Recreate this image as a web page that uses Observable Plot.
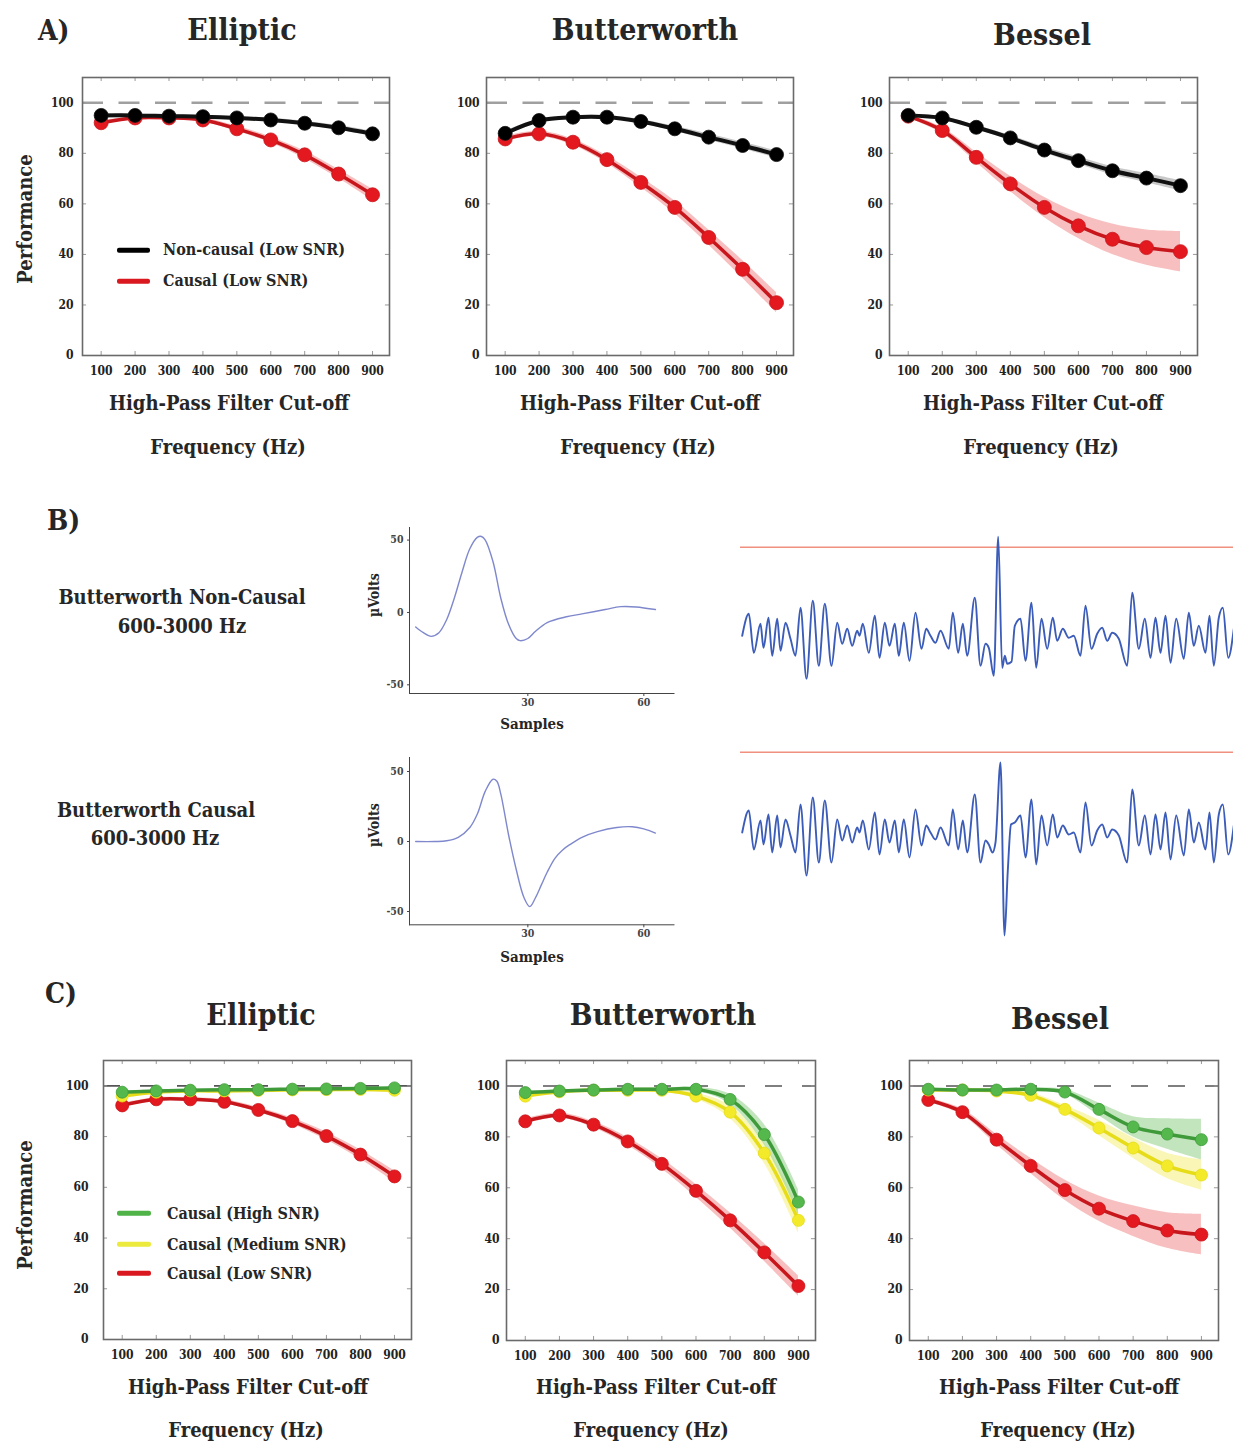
<!DOCTYPE html>
<html><head><meta charset="utf-8">
<script src="https://cdn.jsdelivr.net/npm/d3@7"></script>
<script src="https://cdn.jsdelivr.net/npm/@observablehq/plot@0.6"></script>
<style>
body{margin:0;background:#fff;}
#root{position:relative;width:1233px;height:1445px;overflow:hidden;background:#fff;font-family:"DejaVu Serif Condensed","DejaVu Serif",serif;font-weight:bold;color:#262626;}
.t{position:absolute;white-space:nowrap;transform:translate(-50%,-50%);line-height:1;}
.l{position:absolute;white-space:nowrap;transform:translate(0,-50%);line-height:1;}
.r{position:absolute;white-space:nowrap;transform:translate(-50%,-50%) rotate(-90deg);line-height:1;}
.sw{position:absolute;height:4.5px;transform:translate(0,-50%);border-radius:2px;}
#root svg{position:absolute;}
</style></head><body><div id="root"></div>
<script>
// ---------- data ----------
const freqs = [100, 200, 300, 400, 500, 600, 700, 800, 900];
const perfTicks = [0, 20, 40, 60, 80, 100];

// Panel A (Low SNR)
const ellipticNonCausalLow = [95.0, 95.0, 94.7, 94.5, 94.0, 93.2, 91.9, 90.1, 87.7];
const ellipticNonCausalLowErr = [0.6, 0.5, 0.5, 0.5, 0.6, 0.7, 0.8, 0.9, 1.0];
const ellipticCausalLow = [92.1, 94.0, 94.0, 93.2, 89.7, 85.3, 79.4, 71.8, 63.6];
const ellipticCausalLowErr = [0.8, 0.6, 0.6, 0.8, 1.0, 1.2, 1.5, 1.8, 2.2];
const butterNonCausalLow = [87.9, 93.0, 94.3, 94.3, 92.6, 89.7, 86.4, 83.1, 79.5];
const butterNonCausalLowErr = [0.8, 0.6, 0.6, 0.7, 0.8, 1.0, 1.2, 1.3, 1.5];
const butterCausalLow = [85.7, 87.7, 84.4, 77.5, 68.5, 58.6, 46.7, 34.1, 20.9];
const butterCausalLowErr = [1.0, 1.0, 1.2, 1.5, 2.0, 2.5, 3.0, 3.5, 4.0];
const besselNonCausalLow = [95.0, 94.0, 90.3, 86.1, 81.3, 77.1, 73.1, 70.2, 67.2];
const besselNonCausalLowErr = [0.5, 0.6, 0.8, 1.0, 1.2, 1.4, 1.6, 1.8, 2.0];
const besselCausalLow = [94.7, 89.0, 78.4, 67.9, 58.6, 51.3, 46.0, 42.7, 41.1];
const besselCausalLowErr = [0.8, 1.2, 2.0, 3.0, 4.0, 5.0, 6.0, 7.0, 8.0];

// Panel C (causal, three SNR levels)
const ellipticCausalHigh = [97.5, 98.0, 98.3, 98.5, 98.5, 98.7, 98.8, 99.0, 99.2];
const ellipticCausalHighErr = [0.5, 0.4, 0.4, 0.4, 0.4, 0.4, 0.4, 0.4, 0.4];
const ellipticCausalMedium = [96.0, 97.5, 98.0, 98.0, 98.2, 98.4, 98.5, 98.6, 98.3];
const ellipticCausalMediumErr = [0.6, 0.5, 0.5, 0.5, 0.5, 0.5, 0.5, 0.5, 0.6];
const ellipticCausalLowC = [92.3, 94.7, 94.7, 93.7, 90.5, 86.1, 80.2, 72.9, 64.3];
const ellipticCausalLowCErr = [0.8, 0.6, 0.6, 0.8, 1.0, 1.2, 1.5, 1.8, 2.2];
const butterCausalHigh = [97.4, 98.0, 98.4, 98.7, 98.7, 98.7, 94.7, 80.9, 54.4];
const butterCausalHighErr = [0.5, 0.5, 0.5, 0.5, 0.5, 0.8, 2.0, 4.0, 5.0];
const butterCausalMedium = [96.0, 97.7, 98.3, 98.3, 98.3, 96.0, 89.7, 73.6, 47.2];
const butterCausalMediumErr = [0.6, 0.6, 0.6, 0.6, 0.8, 1.2, 2.5, 4.0, 5.0];
const butterCausalLowC = [86.1, 88.4, 84.8, 78.2, 69.4, 58.8, 47.2, 34.6, 21.4];
const butterCausalLowCErr = [1.0, 1.0, 1.2, 1.5, 2.0, 2.5, 3.0, 3.5, 4.0];
const besselCausalHigh = [98.7, 98.4, 98.4, 98.7, 97.6, 90.8, 83.9, 81.1, 78.9];
const besselCausalHighErr = [0.4, 0.4, 0.4, 0.5, 1.0, 2.5, 4.0, 6.0, 8.0];
const besselCausalMedium = [98.4, 98.4, 98.0, 96.3, 90.8, 83.5, 75.6, 68.6, 65.0];
const besselCausalMediumErr = [0.4, 0.4, 0.5, 1.0, 1.5, 3.0, 4.0, 5.0, 6.0];
const besselCausalLowC = [94.5, 89.7, 78.9, 68.6, 59.1, 51.8, 46.9, 43.2, 41.6];
const besselCausalLowCErr = [0.8, 1.2, 2.0, 3.0, 4.0, 5.0, 6.0, 7.0, 8.0];

// Panel B: mean spike waveforms (sample, µV)
const waveSamples = [30, 60];
const waveVoltTicks = [-50, 0, 50];
const waveNonCausalS = [1, 3, 5, 7, 9, 11, 13, 15, 17, 18, 19, 21, 23, 25, 27, 28, 30, 32, 35, 40, 44, 50, 54, 58, 63];
const waveNonCausalV = [-10, -14, -16.5, -14, -5, 10, 28, 44, 52, 52.5, 50, 35, 10, -8, -18, -19.5, -18, -13, -7, -3, -1, 2, 4, 3.8, 2];
const waveCausalS = [1, 6, 9, 12, 15, 17, 19, 21, 22, 23, 25, 27, 29, 30.5, 32, 33.5, 35, 37, 39, 41, 44, 48, 53, 57, 60, 63];
const waveCausalV = [0, 0, 0.5, 3, 10, 20, 36, 44.5, 43, 34, 5, -20, -40, -46.5, -40, -31, -22, -12, -6, -2, 3, 7, 10, 10.5, 9, 6];

// Panel B: filtered traces — shared background noise (time, amplitude) and two spike shapes
const noiseBeforeT = [1.7, 8.3, 13.3, 20, 23, 28, 31.7, 36.7, 40, 45, 50, 55, 60, 66, 72.3, 78.3, 84.3, 91, 96.7, 101.7,
  106.7, 111.7, 116.7, 119, 122.3, 128.3, 134.3, 139, 144.3, 149, 154.3, 158.3, 163.3, 169, 175, 181, 185.7, 190, 195, 200,
  208.3, 212.3, 217.7, 222.3, 226.7, 234.3, 240, 245];
const noiseBeforeV = [-2, 20, -19, 10, -14, 16, -22, 15, -17, 11, -5, -22, 26, -45, 33, -32, 30, -32, 11, -10,
  5, -12, 3, -2, 10, -19, 18, -24, 11, -12, 10, -22, 11, -27, 21, -15, 5, -2, -9, 3,
  -15, 21, -19, 10, -22, 36, -32, -10];
const spikeNonCausalT = [248.3, 253.3, 257.7, 261.7, 264.3, 266.7, 271];
const spikeNonCausalV = [-14, -42, 97, -34, -22, -30, -28];
const spikeCausalT = [248.3, 252, 255, 260, 264, 267.3, 270.5];
const spikeCausalV = [-14, -22, -12, 68, -105, -40, 6];
const noiseAfterT = [274.3, 280, 285, 291, 295.7, 301, 306.7, 312.3, 316.7, 322.3, 328.3, 333.3, 340, 345, 351, 356.7,
  361.7, 366.7, 371.7, 378.3, 386.7, 391.7, 398.3, 404.3, 410, 415, 420, 425, 430, 435.7, 443.3, 448.3, 453.3, 458.3,
  465, 469, 473.3, 478.3, 482.3, 487.7, 493.3];
const noiseAfterV = [8, 15, -27, 31, -34, 15, -15, 16, -7, 5, -4, -2, -22, 28, -15, 0,
  6, -7, 1, -5, -32, 41, -15, 15, -24, 16, -19, 18, -29, 15, -25, 21, -12, 8,
  -19, 18, -32, 16, 26, -24, 5];
const thresholdNonCausal = 86.6;
const thresholdCausal = 78.3;

// ---------- helpers ----------
const root = document.getElementById("root");
const FONT = '"DejaVu Serif Condensed","DejaVu Serif",serif';
const COL = {
  black: {line: "#111", dot: "#000", band: "#9a9a9a"},
  red: {line: "#c8161d", dot: "#e3191f", band: "#f08a8a"},
  green: {line: "#3f9a3a", dot: "#55b84d", band: "#8fd086"},
  yellow: {line: "#e6dc18", dot: "#f3ea2a", band: "#f4ef7a"}
};
function txt(s, x, y, size, cls = "t") {
  const d = document.createElement("div");
  d.className = cls; d.textContent = s;
  d.style.left = x + "px"; d.style.top = y + "px"; d.style.fontSize = size + "px";
  root.appendChild(d);
}
function swatch(x1, x2, y, color) {
  const d = document.createElement("div");
  d.className = "sw"; d.style.left = x1 + "px"; d.style.width = (x2 - x1) + "px";
  d.style.top = y + "px"; d.style.background = color;
  root.appendChild(d);
}
function place(svg, left, top) {
  svg.style.left = left + "px"; svg.style.top = top + "px";
  root.appendChild(svg);
}

const xDom = [45, 950], yDom = [0, 110];
function perfChart({frame, series, dash, yPad, r = 7}) {
  const [L, T, R, B] = frame;
  const mL = 45, mT = 6, mR = 6, mB = 30;
  const marks = [
    Plot.ruleY([100], {stroke: dash.stroke, strokeDasharray: dash.array, strokeWidth: dash.width})
  ];
  for (const s of series) {
    const d = freqs.map((f, i) => ({f, v: s.values[i], lo: s.values[i] - s.err[i], hi: s.values[i] + s.err[i]}));
    const c = COL[s.color];
    marks.push(Plot.areaY(d, {x: "f", y1: "lo", y2: "hi", fill: c.band, fillOpacity: 0.55, curve: "catmull-rom"}));
  }
  for (const s of series) {
    const d = freqs.map((f, i) => ({f, v: s.values[i]}));
    const c = COL[s.color];
    marks.push(Plot.line(d, {x: "f", y: "v", stroke: c.line, strokeWidth: s.lw || 3.5, curve: "catmull-rom"}));
    marks.push(Plot.dot(d, {x: "f", y: "v", r: s.r || r, fill: c.dot, stroke: c.line, strokeWidth: 0.8}));
  }
  marks.push(
    Plot.ruleX(freqs, {y1: yDom[0], y2: yDom[0] + 1.6, stroke: "#999"}),
    Plot.ruleX(freqs, {y1: yDom[1] - 1.6, y2: yDom[1], stroke: "#999"}),
    Plot.ruleY(perfTicks, {x1: xDom[0], x2: xDom[0] + 12, stroke: "#999"}),
    Plot.ruleY(perfTicks, {x1: xDom[1] - 12, x2: xDom[1], stroke: "#999"}),
    Plot.frame({stroke: "#6a6a6a", strokeWidth: 1.6})
  );
  const svg = Plot.plot({
    width: R - L + mL + mR, height: B - T + mT + mB,
    marginLeft: mL, marginTop: mT, marginRight: mR, marginBottom: mB,
    x: {domain: xDom, ticks: freqs, tickSize: 0, tickPadding: 11, label: null, tickFormat: d => String(d)},
    y: {domain: yDom, ticks: perfTicks, tickSize: 0, tickPadding: yPad, label: null},
    style: {fontFamily: FONT, fontSize: "12px", fontWeight: "bold", color: "#222", background: "transparent", overflow: "visible"},
    marks
  });
  place(svg, L - mL, T - mT);
}

const dashA = {stroke: "#a0a0a0", array: "21,15.5", width: 2.5};
const dashC = {stroke: "#555", array: "17,20", width: 1.6};

// ---------- Panel A ----------
perfChart({frame: [82, 77, 389, 355], yPad: 9, dash: dashA, series: [
  {values: ellipticCausalLow, err: ellipticCausalLowErr, color: "red"},
  {values: ellipticNonCausalLow, err: ellipticNonCausalLowErr, color: "black", lw: 4}
]});
perfChart({frame: [486, 77, 793, 355], yPad: 7, dash: dashA, series: [
  {values: butterCausalLow, err: butterCausalLowErr, color: "red"},
  {values: butterNonCausalLow, err: butterNonCausalLowErr, color: "black", lw: 4}
]});
perfChart({frame: [889, 77, 1197, 355], yPad: 7, dash: dashA, series: [
  {values: besselCausalLow, err: besselCausalLowErr, color: "red"},
  {values: besselNonCausalLow, err: besselNonCausalLowErr, color: "black", lw: 4}
]});

// ---------- Panel C ----------
perfChart({frame: [103, 1060, 411, 1339], yPad: 15, dash: dashC, r: 6.5, series: [
  {values: ellipticCausalLowC, err: ellipticCausalLowCErr, color: "red"},
  {values: ellipticCausalMedium, err: ellipticCausalMediumErr, color: "yellow", r: 6},
  {values: ellipticCausalHigh, err: ellipticCausalHighErr, color: "green", r: 6}
]});
perfChart({frame: [506, 1060, 815, 1340], yPad: 7, dash: dashC, r: 6.5, series: [
  {values: butterCausalLowC, err: butterCausalLowCErr, color: "red"},
  {values: butterCausalMedium, err: butterCausalMediumErr, color: "yellow", r: 6},
  {values: butterCausalHigh, err: butterCausalHighErr, color: "green", r: 6}
]});
perfChart({frame: [909, 1060, 1218, 1340], yPad: 7, dash: dashC, r: 6.5, series: [
  {values: besselCausalLowC, err: besselCausalLowCErr, color: "red"},
  {values: besselCausalMedium, err: besselCausalMediumErr, color: "yellow", r: 6},
  {values: besselCausalHigh, err: besselCausalHighErr, color: "green", r: 6}
]});

// ---------- Panel B waveforms ----------
function waveChart(S, V, top, height, yDomain) {
  const mL = 30, mB = 22;
  const d = S.map((s, i) => ({s, v: V[i]}));
  const svg = Plot.plot({
    width: 264.5 + mL + 4, height: height + mB,
    marginLeft: mL, marginTop: 0, marginRight: 4, marginBottom: mB,
    x: {domain: [-0.6, 67.8], ticks: waveSamples, tickSize: 3, tickPadding: 2, line: true, label: null},
    y: {domain: yDomain, ticks: waveVoltTicks, tickSize: 2, tickPadding: 4, line: true, label: null, tickFormat: d => String(d)},
    style: {fontFamily: FONT, fontSize: "10.5px", fontWeight: "bold", color: "#444", background: "transparent", overflow: "visible"},
    marks: [Plot.line(d, {x: "s", y: "v", stroke: "#7f88cc", strokeWidth: 1.4, curve: "catmull-rom"})]
  });
  place(svg, 408.5 - mL, top);
}
waveChart(waveNonCausalS, waveNonCausalV, 526.7, 166, [-56, 58.7]);
waveChart(waveCausalS, waveCausalV, 756.7, 167.3, [-59.5, 60]);

// ---------- Panel B traces ----------
function traceChart(T, V, threshold, top, height, yDomain) {
  const d = T.map((t, i) => ({t, v: V[i]}));
  const svg = Plot.plot({
    width: 493, height, margin: 0,
    x: {domain: [0, 493], axis: null},
    y: {domain: yDomain, axis: null},
    style: {background: "transparent", overflow: "visible"},
    marks: [
      Plot.ruleY([threshold], {stroke: "#f0907e", strokeWidth: 1.5}),
      Plot.line(d, {x: "t", y: "v", stroke: "#3b5cb8", strokeWidth: 1.9, curve: "monotone-x"})
    ]
  });
  place(svg, 740, top);
}
traceChart([...noiseBeforeT, ...spikeNonCausalT, ...noiseAfterT], [...noiseBeforeV, ...spikeNonCausalV, ...noiseAfterV],
  thresholdNonCausal, 527, 165, [-58.7, 106.3]);
traceChart([...noiseBeforeT, ...spikeCausalT, ...noiseAfterT], [...noiseBeforeV, ...spikeCausalV, ...noiseAfterV],
  thresholdCausal, 740, 205, [-115, 90]);

// ---------- text ----------
txt("A)", 38, 31, 28, "l");
txt("B)", 47, 521, 28, "l");
txt("C)", 45, 994, 28, "l");
[["Elliptic", 242, 30], ["Butterworth", 645, 30], ["Bessel", 1042, 35],
 ["Elliptic", 261, 1015], ["Butterworth", 663, 1015], ["Bessel", 1060, 1019]]
  .forEach(([s, x, y]) => txt(s, x, y, 30));
[[229, 403, 228, 447], [640, 403, 638, 447], [1043, 403, 1041, 447],
 [248, 1387, 246, 1430], [656, 1387, 651, 1430], [1059, 1387, 1058, 1430]]
  .forEach(([x1, y1, x2, y2]) => { txt("High-Pass Filter Cut-off", x1, y1, 20); txt("Frequency (Hz)", x2, y2, 20); });
txt("Performance", 25, 219, 20, "r");
txt("Performance", 25, 1205, 20, "r");
txt("Butterworth Non-Causal", 182, 597, 20);
txt("600-3000 Hz", 182, 626, 20);
txt("Butterworth Causal", 156, 810, 20);
txt("600-3000 Hz", 155, 838, 20);
txt("Samples", 532, 724, 15);
txt("Samples", 532, 957, 15);
txt("µVolts", 374, 595, 14, "r");
txt("µVolts", 374, 825, 14, "r");

// legends
swatch(117, 150, 250, "#000"); txt("Non-causal (Low SNR)", 163, 250, 16, "l");
swatch(117, 150, 281, "#d9181f"); txt("Causal (Low SNR)", 163, 281, 16, "l");
swatch(117, 151, 1213, "#4fb348"); txt("Causal (High SNR)", 167, 1214, 16, "l");
swatch(117, 151, 1244, "#ecea3c"); txt("Causal (Medium SNR)", 167, 1245, 16, "l");
swatch(117, 151, 1273, "#d9181f"); txt("Causal (Low SNR)", 167, 1274, 16, "l");
</script>
</body></html>
